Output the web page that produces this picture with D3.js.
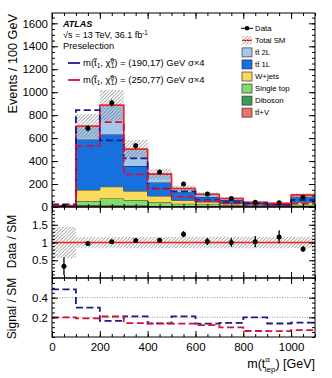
<!DOCTYPE html>
<html>
<head>
<meta charset="utf-8">
<script src="https://cdn.jsdelivr.net/npm/d3@7"></script>
<style>
  body { margin: 0; background: #fff; }
  svg { display: block; font-family: "Liberation Sans", Arial, sans-serif; }
</style>
</head>
<body>
<svg id="chart" width="332" height="378"></svg>
<script>
// bins of m(t_lep), 100 GeV wide (last bin holds the overflow)
const binLow = [0, 100, 200, 300, 400, 500, 600, 700, 800, 900, 1000];
const binWidth = 100;

// SM backgrounds, events per bin (bottom of the stack first)
const ttV       = [0.5, 8, 8, 7, 5, 5, 4, 3, 2, 2, 4];
const diboson   = [0.5, 7, 5, 5, 4, 4, 4, 3, 2, 2, 4];
const singleTop = [1, 37, 62, 49, 32, 20, 14, 9, 5, 4, 12];
const wjets     = [2, 96, 102, 78, 55, 30, 22, 16, 9, 7, 22];
const tt1L      = [6, 441, 455, 218, 118, 70, 44, 30, 16, 12, 42];
const tt2L      = [2, 115, 255, 147, 73, 33, 22, 14, 7, 5, 20];

// data and uncertainties
const data    = [4, 685, 905, 533, 305, 200, 113, 75, 42, 37, 85];
const dataErr = [3, 26, 30, 23, 17, 14, 11, 9, 6.5, 6, 9];
const sysRel  = [0.44, 0.15, 0.15, 0.16, 0.16, 0.16, 0.16, 0.16, 0.16, 0.16, 0.16];

// signal yields (unscaled)
const sig190 = [5.8, 211, 145, 106, 40, 34, 15, 10.7, 8.2, 4.4, 15.3];
const sig250 = [2.4, 133, 185, 71, 39, 22, 13.2, 7.3, 2.5, 1.9, 7.3];
const sigScale = 4;

// tick values
const xMajor = [0, 200, 400, 600, 800, 1000];
const mainMajor = [0, 200, 400, 600, 800, 1000, 1200, 1400, 1600];
const ratioMajor = [0.5, 1, 1.5];
const sigMajor = [0.2, 0.4];

const keys = ['ttV', 'diboson', 'singleTop', 'wjets', 'tt1L', 'tt2L'];
const colors = {
  tt2L: '#a4c7ec', tt1L: '#1670dd', wjets: '#fbd95d',
  singleTop: '#84dc6e', diboson: '#3b9b52', ttV: '#eb7169'
};
const legendRows = [
  { key: 'tt2L', label: 'tt\u0304 2L' },
  { key: 'tt1L', label: 'tt\u0304 1L' },
  { key: 'wjets', label: 'W+jets' },
  { key: 'singleTop', label: 'Single top' },
  { key: 'diboson', label: 'Diboson' },
  { key: 'ttV', label: 'tt\u0304+V' }
];

const table = binLow.map((b, i) => ({
  ttV: ttV[i], diboson: diboson[i], singleTop: singleTop[i],
  wjets: wjets[i], tt1L: tt1L[i], tt2L: tt2L[i]
}));
const layers = d3.stack().keys(keys)(table);
const total = table.map(r => keys.reduce((s, k) => s + r[k], 0));

const svg = d3.select('#chart');
const left = 52, right = 315;

const x = d3.scaleLinear().domain([0, 1100]).range([left, right]);
const yMain = d3.scaleLinear().domain([0, 1690]).range([207, 13]);
const yRatio = d3.scaleLinear().domain([0, 2]).range([278, 207]);
const ySig = d3.scaleLinear().domain([0, 0.6]).range([337, 278]);

// hatch pattern
const defs = svg.append('defs');
defs.append('pattern')
  .attr('id', 'hatch')
  .attr('patternUnits', 'userSpaceOnUse')
  .attr('width', 3.5).attr('height', 3.5)
  .append('path')
  .attr('d', 'M-1,1 l2,-2 M0,3.5 l3.5,-3.5 M2.5,4.5 l2,-2')
  .attr('stroke', '#707070').attr('stroke-width', 0.75);

['clipMain', 'clipRatio', 'clipSig'].forEach((id, i) => {
  const ys = [yMain, yRatio, ySig][i];
  defs.append('clipPath').attr('id', id)
    .append('rect')
    .attr('x', left).attr('y', ys.range()[1])
    .attr('width', right - left).attr('height', ys.range()[0] - ys.range()[1]);
});

// step points for a histogram
function stepPoints(values) {
  const pts = [];
  values.forEach((v, i) => {
    pts.push({ x: binLow[i], v });
    pts.push({ x: binLow[i] + binWidth, v });
  });
  return pts;
}

// ---------- main panel ----------
const gMain = svg.append('g').attr('clip-path', 'url(#clipMain)');

layers.forEach(layer => {
  const pts = [];
  layer.forEach((d, i) => {
    pts.push({ x: binLow[i], y0: d[0], y1: d[1] });
    pts.push({ x: binLow[i] + binWidth, y0: d[0], y1: d[1] });
  });
  gMain.append('path')
    .attr('d', d3.area().x(d => x(d.x)).y0(d => yMain(d.y0)).y1(d => yMain(d.y1))(pts))
    .attr('fill', colors[layer.key]);
  gMain.append('path')
    .attr('d', d3.line().x(d => x(d.x)).y(d => yMain(d.y1))(pts))
    .attr('fill', 'none').attr('stroke', '#111').attr('stroke-width', 0.8);
});

// uncertainty band
gMain.selectAll('.band')
  .data(total)
  .enter().append('rect')
  .attr('x', (d, i) => x(binLow[i]))
  .attr('width', x(binWidth) - x(0))
  .attr('y', (d, i) => yMain(d * (1 + sysRel[i])))
  .attr('height', (d, i) => yMain(d * (1 - sysRel[i])) - yMain(d * (1 + sysRel[i])))
  .attr('fill', 'url(#hatch)');

// total SM outline
const totalLine = d3.line().x(d => x(d.x)).y(d => yMain(d.v));
gMain.append('path')
  .attr('d', totalLine(stepPoints(total)))
  .attr('fill', 'none').attr('stroke', '#ff1a1a').attr('stroke-width', 1.5);

// signals x4
const sigDefs = [
  { vals: sig190, color: '#1b1b8e' },
  { vals: sig250, color: '#d4103c' }
];
sigDefs.forEach(s => {
  gMain.append('path')
    .attr('d', totalLine(stepPoints(s.vals.map(v => v * sigScale))))
    .attr('fill', 'none').attr('stroke', s.color)
    .attr('stroke-width', 1.8).attr('stroke-dasharray', '7,3.5');
});

// data points
const cx = (d, i) => x(binLow[i] + binWidth / 2);
gMain.selectAll('.err')
  .data(data)
  .enter().append('line')
  .attr('x1', cx).attr('x2', cx)
  .attr('y1', (d, i) => yMain(d - dataErr[i]))
  .attr('y2', (d, i) => yMain(d + dataErr[i]))
  .attr('stroke', '#000').attr('stroke-width', 1.3);
gMain.selectAll('.pt')
  .data(data)
  .enter().append('circle')
  .attr('cx', cx).attr('cy', d => yMain(d)).attr('r', 2.5)
  .attr('fill', '#000');

// ---------- ratio panel ----------
const gRatio = svg.append('g').attr('clip-path', 'url(#clipRatio)');
gRatio.selectAll('.band')
  .data(sysRel)
  .enter().append('rect')
  .attr('x', (d, i) => x(binLow[i]))
  .attr('width', x(binWidth) - x(0))
  .attr('y', d => yRatio(1 + d))
  .attr('height', d => yRatio(1 - d) - yRatio(1 + d))
  .attr('fill', 'url(#hatch)');
gRatio.append('line')
  .attr('x1', left).attr('x2', right)
  .attr('y1', yRatio(1)).attr('y2', yRatio(1))
  .attr('stroke', '#ff1a1a').attr('stroke-width', 1.5);
const ratio = data.map((d, i) => d / total[i]);
gRatio.selectAll('.err')
  .data(ratio)
  .enter().append('line')
  .attr('x1', cx).attr('x2', cx)
  .attr('y1', (d, i) => yRatio(d - dataErr[i] / total[i]))
  .attr('y2', (d, i) => yRatio(d + dataErr[i] / total[i]))
  .attr('stroke', '#000').attr('stroke-width', 1.3);
gRatio.selectAll('.pt')
  .data(ratio)
  .enter().append('circle')
  .attr('cx', cx).attr('cy', d => yRatio(d)).attr('r', 2.5)
  .attr('fill', '#000');

// ---------- signal / SM panel ----------
const gSig = svg.append('g').attr('clip-path', 'url(#clipSig)');
gSig.selectAll('.grid')
  .data(sigMajor)
  .enter().append('line')
  .attr('x1', left).attr('x2', right)
  .attr('y1', d => ySig(d)).attr('y2', d => ySig(d))
  .attr('stroke', '#555').attr('stroke-width', 0.6).attr('stroke-dasharray', '1,1.5');
const sigLine = d3.line().x(d => x(d.x)).y(d => ySig(d.v));
sigDefs.forEach(s => {
  gSig.append('path')
    .attr('d', sigLine(stepPoints(s.vals.map((v, i) => v / total[i]))))
    .attr('fill', 'none').attr('stroke', s.color)
    .attr('stroke-width', 1.8).attr('stroke-dasharray', '7,3.5');
});

// ---------- axes and frames ----------
function range(a, b, step) {
  return d3.range(Math.round((b - a) / step) + 1).map(i => +(a + i * step).toFixed(4));
}

function panelAxes(ys, major, minor, fmt, xLabels) {
  const top = ys.range()[1], bottom = ys.range()[0];
  const ax = (gen, tx, ty) => svg.append('g')
    .attr('transform', `translate(${tx},${ty})`)
    .call(gen)
    .call(g => g.select('.domain').remove())
    .attr('font-family', null).attr('font-size', 11.5);

  ax(d3.axisLeft(ys).tickValues(major).tickSize(-6).tickPadding(4).tickFormat(fmt), left, 0);
  ax(d3.axisLeft(ys).tickValues(minor).tickSize(-3).tickFormat(''), left, 0);
  ax(d3.axisRight(ys).tickValues(major).tickSize(-6).tickFormat(''), right, 0);
  ax(d3.axisRight(ys).tickValues(minor).tickSize(-3).tickFormat(''), right, 0);

  ax(d3.axisBottom(x).tickValues(xMajor).tickSize(-6).tickPadding(6)
    .tickFormat(xLabels ? d3.format('d') : ''), 0, bottom);
  ax(d3.axisBottom(x).tickValues(range(0, 1100, 50)).tickSize(-3).tickFormat(''), 0, bottom);
  ax(d3.axisTop(x).tickValues(xMajor).tickSize(-6).tickFormat(''), 0, top);
  ax(d3.axisTop(x).tickValues(range(0, 1100, 50)).tickSize(-3).tickFormat(''), 0, top);

  svg.append('rect')
    .attr('x', left).attr('y', top)
    .attr('width', right - left).attr('height', bottom - top)
    .attr('fill', 'none').attr('stroke', '#000').attr('stroke-width', 1);
}

panelAxes(yMain, mainMajor, range(0, 1650, 50), d3.format('d'), false);
panelAxes(yRatio, ratioMajor, range(0, 2, 0.1), d => d, false);
panelAxes(ySig, sigMajor, range(0, 0.6, 0.05), d => d, true);

// axis titles
svg.append('text')
  .attr('transform', 'translate(17,14) rotate(-90)')
  .attr('text-anchor', 'end').attr('font-size', 12.7)
  .text('Events / 100 GeV');
svg.append('text')
  .attr('transform', `translate(16,${(yRatio.range()[0] + yRatio.range()[1]) / 2 - 1}) rotate(-90)`)
  .attr('text-anchor', 'middle').attr('font-size', 12)
  .text('Data / SM');
svg.append('text')
  .attr('transform', `translate(16,${(ySig.range()[0] + ySig.range()[1]) / 2 + 1}) rotate(-90)`)
  .attr('text-anchor', 'middle').attr('font-size', 12)
  .text('Signal / SM');

const xt = svg.append('text')
  .attr('x', right).attr('y', 368)
  .attr('text-anchor', 'end').attr('font-size', 12.5);
xt.append('tspan').text('m(t');
xt.append('tspan').attr('font-size', 8).attr('dy', -6).text('\u03B1');
xt.append('tspan').attr('font-size', 8).attr('dx', -5.2).attr('dy', 10).text('lep');
xt.append('tspan').attr('dy', -4).text(') [GeV]');

// ATLAS labels
svg.append('text')
  .attr('x', 63).attr('y', 27)
  .attr('font-size', 9).attr('font-weight', 'bold').attr('font-style', 'italic')
  .text('ATLAS');
const lumi = svg.append('text').attr('x', 63).attr('y', 38).attr('font-size', 9);
lumi.append('tspan').text('\u221As = 13 TeV, 36.1 fb');
lumi.append('tspan').attr('font-size', 6.3).attr('dy', -3).text('-1');
svg.append('text')
  .attr('x', 63).attr('y', 49).attr('font-size', 9.3)
  .text('Preselection');

// signal legend
const sigLabels = ['(190,17)', '(250,77)'];
sigDefs.forEach((s, i) => {
  const yy = 63 + i * 17;
  svg.append('line')
    .attr('x1', 68).attr('x2', 80).attr('y1', yy).attr('y2', yy)
    .attr('stroke', s.color).attr('stroke-width', 1.8);
  const t = svg.append('text').attr('x', 83).attr('y', yy + 3.2).attr('font-size', 9.5);
  t.append('tspan').text('m(t\u0303');
  t.append('tspan').attr('font-size', 6.5).attr('dy', 2).text('1');
  t.append('tspan').attr('dy', -2).text(', \u03C7\u0303');
  t.append('tspan').attr('font-size', 6.5).attr('dy', -3.5).text('0');
  t.append('tspan').attr('font-size', 6.5).attr('dx', -3.6).attr('dy', 5.5).text('1');
  t.append('tspan').attr('dy', -2).text(`) = ${sigLabels[i]} GeV  \u03C3\u00D74`);
});

// right legend
const lx = 242, ly0 = 28.3, dy = 12.05;
const leg = svg.append('g').attr('font-size', 7.8);
leg.append('line').attr('x1', lx - 1).attr('x2', lx + 11).attr('y1', ly0).attr('y2', ly0)
  .attr('stroke', '#000').attr('stroke-width', 1);
leg.append('circle').attr('cx', lx + 5).attr('cy', ly0).attr('r', 2.3).attr('fill', '#000');
leg.append('text').attr('x', lx + 13).attr('y', ly0 + 2.8).text('Data');

const y1 = ly0 + dy;
leg.append('rect').attr('x', lx).attr('y', y1 - 4.5).attr('width', 10).attr('height', 9)
  .attr('fill', 'url(#hatch)');
leg.append('line').attr('x1', lx).attr('x2', lx + 10).attr('y1', y1).attr('y2', y1)
  .attr('stroke', '#ff1a1a').attr('stroke-width', 1.3);
leg.append('text').attr('x', lx + 13).attr('y', y1 + 2.8).text('Total SM');

legendRows.forEach((r, i) => {
  const yy = ly0 + dy * (i + 2);
  leg.append('rect').attr('x', lx).attr('y', yy - 4.5).attr('width', 10).attr('height', 9)
    .attr('fill', colors[r.key]).attr('stroke', '#333').attr('stroke-width', 0.7);
  leg.append('text').attr('x', lx + 13).attr('y', yy + 2.8).text(r.label);
});
</script>
</body>
</html>
